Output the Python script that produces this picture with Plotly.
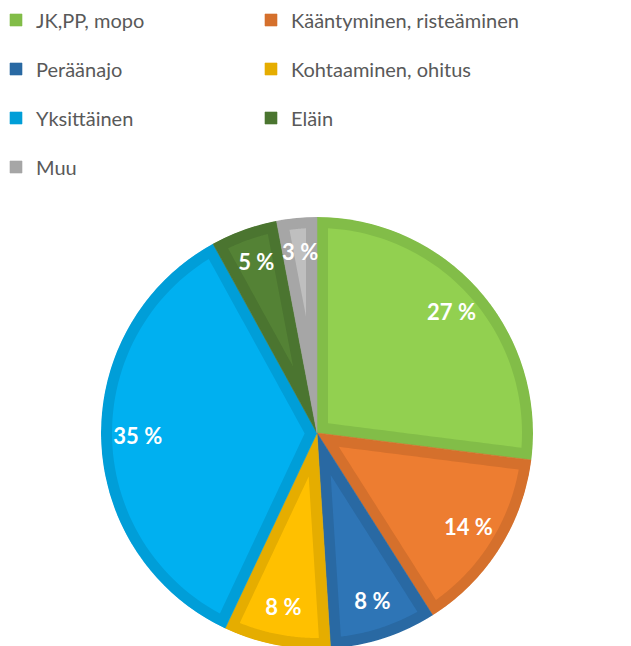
import math
import plotly.graph_objects as go

labels = ["JK,PP, mopo", "Kääntyminen, risteäminen", "Peräänajo", "Kohtaaminen, ohitus",
          "Yksittäinen", "Eläin", "Muu"]
values = [27, 14, 8, 8, 35, 5, 3]
fill_colors = ["#92D050", "#ED7D31", "#2E75B6", "#FFC000", "#00B0F0", "#548235", "#BFBFBF"]
edge_colors = ["#82BD48", "#D5702C", "#2969A3", "#E5AD00", "#009ED8", "#4B7530", "#A6A6A6"]

W, H = 631, 646
OFF = 8  # page body margin of the browser
CX, CY, R = 317 - OFF, 433 - OFF, 216
BORDER = 11  # px inset border
LEG_COL_X = [-12, 243]           # legend box left edge (figure px)
LEG_ROW_Y = [12, 61, 110, 159]   # row centre (figure px)


def px_x(px):
    return px / W


def px_y(py):
    return 1 - py / H


total = sum(values)
spans = [v / total * 360 for v in values]
starts = []
acc = 0
for s in spans:
    starts.append(acc)
    acc += s
mids = [st + s / 2 for st, s in zip(starts, spans)]

fig = go.Figure()

# full slices (border colour)
for i, lab in enumerate(labels):
    leg = "legend" if i == 0 else f"legend{i+1}"
    fig.add_trace(go.Barpolar(
        r=[1], theta=[mids[i]], width=[spans[i]], base=0,
        marker=dict(color=edge_colors[i], line=dict(color=edge_colors[i], width=0.6)),
        name=lab, legend=leg, hoverinfo="skip"))

# inner lighter fills inset from the slice edges
d = BORDER / R
rout = 1 - d
for i in range(len(labels)):
    a1 = math.radians(starts[i])
    a2 = math.radians(starts[i] + spans[i])
    half = (a2 - a1) / 2
    r0 = d / math.sin(half) if half < math.pi / 2 else d
    n = 40
    rs = [r0 + (rout - r0) * k / n for k in range(n + 1)]
    th = []
    rr = []
    for r in rs:
        rr.append(r)
        th.append(math.degrees(a1 + math.asin(min(1, d / r))))
    t_start = a1 + math.asin(d / rout)
    t_end = a2 - math.asin(d / rout)
    m = 60
    for k in range(m + 1):
        rr.append(rout)
        th.append(math.degrees(t_start + (t_end - t_start) * k / m))
    for r in reversed(rs):
        rr.append(r)
        th.append(math.degrees(a2 - math.asin(min(1, d / r))))
    fig.add_trace(go.Scatterpolar(
        r=rr, theta=th, mode="lines", fill="toself",
        fillcolor=fill_colors[i], line=dict(width=0, color=fill_colors[i]),
        showlegend=False, hoverinfo="skip"))

fig.add_trace(go.Scatterpolar(
    r=[0.83] * len(values), theta=mids, mode="text",
    text=[f"{v} %" for v in values],
    textfont=dict(family="Lato", size=22, color="white", weight="bold"),
    showlegend=False, hoverinfo="skip"))

layout_legends = {}
for i, lab in enumerate(labels):
    col = i % 2
    row = i // 2
    key = "legend" if i == 0 else f"legend{i+1}"
    layout_legends[key] = dict(
        x=px_x(LEG_COL_X[col]), y=px_y(LEG_ROW_Y[row]),
        xanchor="left", yanchor="middle",
        font=dict(family="Lato", size=20, color="#595959"),
        bgcolor="rgba(0,0,0,0)", borderwidth=0, itemwidth=30)

fig.update_layout(
    width=W, height=H,
    margin=dict(l=0, r=0, t=0, b=0, autoexpand=False),
    paper_bgcolor="white", plot_bgcolor="white",
    polar=dict(
        domain=dict(x=[px_x(CX - R), px_x(CX + R)], y=[px_y(CY + R), px_y(CY - R)]),
        bgcolor="white", bargap=0, hole=0,
        angularaxis=dict(rotation=90, direction="clockwise", visible=False),
        radialaxis=dict(range=[0, 1], visible=False)),
    showlegend=True,
    **layout_legends)

fig.write_html("out.html")
